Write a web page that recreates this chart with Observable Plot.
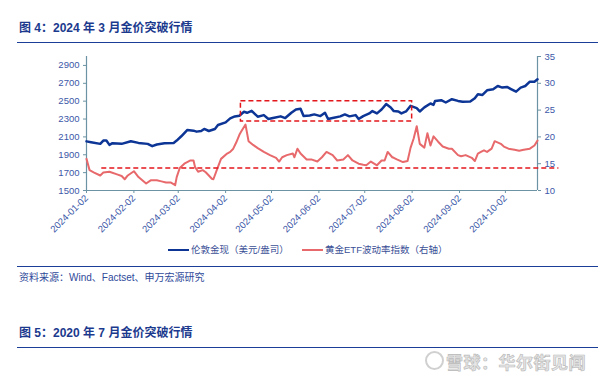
<!DOCTYPE html>
<html>
<head>
<meta charset="utf-8">
<script src="https://cdn.jsdelivr.net/npm/d3@7"></script>
<script src="https://cdn.jsdelivr.net/npm/@observablehq/plot@0.6"></script>
<style>
  html, body { margin: 0; padding: 0; background: #fff; }
  #page { position: relative; width: 605px; height: 379px; background: #fff; overflow: hidden;
          font-family: "Liberation Sans", Arial, "Noto Sans CJK SC", sans-serif; }
  .abs { position: absolute; white-space: nowrap; }
  .title { left: 19px; font-size: 12px; font-weight: bold; color: #1b3a8e; font-family: "Liberation Sans", Arial, "Noto Sans CJK SC", sans-serif; line-height: 14px; }
  .hline { position: absolute; left: 17px; width: 581px; height: 0; border-top: 1.5px solid #1b3f99; }
  .legend { font-size: 9.5px; color: #3a4f96; line-height: 12px; }
  .swatch { position: absolute; height: 0; width: 21px; }
  .src { left: 19px; font-size: 10px; color: #2f4a9a; line-height: 12px; }
  .wm { font-size: 17px; color: #e6e6e6; font-weight: bold; letter-spacing: 0.5px;
        -webkit-text-stroke: 0.6px #b8b8b8; font-family: "Noto Sans CJK SC", sans-serif; }
  #chart { position: absolute; left: 0; top: 0; }
</style>
</head>
<body>
<div id="page">
  <div class="abs title" style="top:21px">图 4：2024 年 3 月金价突破行情</div>
  <div class="hline" style="top:42px"></div>
  <div id="chart"></div>
  <div class="swatch" style="left:168px; top:249px; border-top:2.5px solid #0c3596"></div>
  <div class="abs legend" style="left:191px; top:244px">伦敦金现（美元/盎司）</div>
  <div class="swatch" style="left:302px; top:249px; border-top:2.5px solid #e8696b"></div>
  <div class="abs legend" style="left:325px; top:244px">黄金ETF波动率指数（右轴）</div>
  <div class="hline" style="top:266px"></div>
  <div class="abs src" style="top:272px">资料来源：Wind、Factset、申万宏源研究</div>
  <div class="abs title" style="top:326px">图 5：2020 年 7 月金价突破行情</div>
  <div class="hline" style="top:347px"></div>
  <div class="abs" style="left:425px; top:351px; width:15px; height:15px; border:2px solid #d0d0d0; border-radius:50%;"></div>
  <div class="abs wm" style="left:446px; top:349px">雪球：华尔街见闻</div>
</div>
<script>
// ---- data ----
const xTickDates = ["2024-01-02","2024-02-02","2024-03-02","2024-04-02","2024-05-02","2024-06-02","2024-07-02","2024-08-02","2024-09-02","2024-10-02"];
const leftTicks = [1500,1700,1900,2100,2300,2500,2700,2900];
const rightTicks = [10,15,20,25,30,35];

const goldDates = ["2024-01-02","2024-01-05","2024-01-11","2024-01-13","2024-01-15","2024-01-17","2024-01-19","2024-01-25","2024-01-31","2024-02-05","2024-02-11","2024-02-14","2024-02-17","2024-02-22","2024-02-28","2024-03-01","2024-03-04","2024-03-08","2024-03-12","2024-03-14","2024-03-17","2024-03-19","2024-03-22","2024-03-26","2024-03-28","2024-04-02","2024-04-05","2024-04-08","2024-04-11","2024-04-14","2024-04-16","2024-04-19","2024-04-23","2024-04-27","2024-04-30","2024-05-03","2024-05-08","2024-05-11","2024-05-15","2024-05-18","2024-05-21","2024-05-23","2024-05-27","2024-05-30","2024-06-03","2024-06-06","2024-06-08","2024-06-11","2024-06-16","2024-06-19","2024-06-22","2024-06-26","2024-06-28","2024-07-01","2024-07-05","2024-07-07","2024-07-10","2024-07-13","2024-07-16","2024-07-19","2024-07-21","2024-07-24","2024-07-26","2024-07-29","2024-08-01","2024-08-05","2024-08-07","2024-08-10","2024-08-14","2024-08-16","2024-08-17","2024-08-21","2024-08-24","2024-08-28","2024-09-01","2024-09-04","2024-09-09","2024-09-12","2024-09-14","2024-09-17","2024-09-20","2024-09-24","2024-09-27","2024-09-30","2024-10-03","2024-10-06","2024-10-09","2024-10-12","2024-10-15","2024-10-18","2024-10-21","2024-10-23"];
const goldValues = [2050,2040,2022,2059,2059,2011,2030,2022,2051,2033,2022,1996,2015,2030,2033,2059,2107,2178,2170,2159,2166,2189,2166,2189,2233,2262,2307,2329,2337,2381,2370,2392,2326,2344,2300,2311,2330,2311,2370,2407,2415,2333,2340,2352,2333,2370,2300,2311,2330,2352,2330,2344,2300,2333,2363,2389,2363,2407,2467,2429,2389,2385,2363,2385,2448,2422,2385,2430,2474,2459,2503,2511,2485,2522,2503,2493,2496,2533,2578,2570,2622,2633,2670,2652,2659,2633,2607,2652,2670,2718,2718,2744];

const volDates = ["2024-01-02","2024-01-04","2024-01-07","2024-01-11","2024-01-13","2024-01-17","2024-01-22","2024-01-25","2024-01-27","2024-01-29","2024-02-02","2024-02-05","2024-02-10","2024-02-13","2024-02-17","2024-02-20","2024-02-23","2024-02-26","2024-02-29","2024-03-01","2024-03-03","2024-03-06","2024-03-10","2024-03-12","2024-03-13","2024-03-15","2024-03-18","2024-03-20","2024-03-24","2024-03-25","2024-03-28","2024-03-30","2024-04-03","2024-04-05","2024-04-07","2024-04-09","2024-04-11","2024-04-12","2024-04-15","2024-04-17","2024-04-20","2024-04-23","2024-04-27","2024-05-01","2024-05-05","2024-05-07","2024-05-09","2024-05-12","2024-05-16","2024-05-17","2024-05-19","2024-05-21","2024-05-25","2024-05-28","2024-06-01","2024-06-04","2024-06-07","2024-06-11","2024-06-14","2024-06-18","2024-06-21","2024-06-24","2024-06-28","2024-07-01","2024-07-03","2024-07-06","2024-07-10","2024-07-13","2024-07-15","2024-07-17","2024-07-20","2024-07-21","2024-07-23","2024-07-27","2024-07-30","2024-08-01","2024-08-03","2024-08-05","2024-08-07","2024-08-10","2024-08-12","2024-08-14","2024-08-16","2024-08-19","2024-08-22","2024-08-26","2024-08-28","2024-09-01","2024-09-03","2024-09-06","2024-09-10","2024-09-12","2024-09-14","2024-09-16","2024-09-18","2024-09-20","2024-09-23","2024-09-25","2024-09-29","2024-10-01","2024-10-04","2024-10-08","2024-10-11","2024-10-14","2024-10-18","2024-10-21","2024-10-23"];
const volValues = [15.9,13.8,13.35,12.8,13.35,13.5,13.0,12.7,12.1,12.8,13.6,12.5,11.3,11.9,11.9,11.7,11.5,11.5,11.0,12.5,14.2,15.0,15.6,15.6,14.4,13.5,13.8,13.4,12.2,12.1,14.4,15.9,16.9,17.2,17.8,19.0,20.4,20.9,22.3,19.2,18.5,17.9,17.2,16.6,16.1,15.4,16.2,16.6,16.9,16.2,17.8,16.9,15.8,15.8,15.4,16.2,17.2,16.6,15.6,15.8,16.6,15.6,15.0,14.8,14.7,15.4,14.7,15.6,15.6,17.2,16.2,16.1,15.8,15.3,15.5,18.0,19.7,22.0,18.7,18.0,20.7,18.4,20.1,19.1,18.2,17.8,17.8,16.6,16.4,16.6,16.1,15.5,16.9,17.2,17.5,17.2,17.8,19.2,18.7,18.2,17.8,17.6,17.4,17.6,17.8,18.4,19.3];

// annotations
const hLineValue = 14.2;                 // right-axis value of the dashed horizontal line
const hLineDates = ["2024-01-12", "2024-11-06"];
const boxDates = ["2024-04-12", "2024-08-02"];
const boxGold = [2272, 2500];

// ---- helpers ----
const parse = d3.utcParse("%Y-%m-%d");
const toLeft = v => 1500 + (v - 10) * 60;     // right axis (10..35) -> left axis (1500..3000)
const fromLeft = d => Math.round((d - 1500) / 60 + 10);

const gold = goldDates.map((d, i) => ({date: parse(d), value: goldValues[i]}));
const vol = volDates.map((d, i) => ({date: parse(d), value: volValues[i]}));

const blue = "#0c3596", red = "#e8696b", dash = "#e3161c";
const axisColor = "#6b93a3", labelColor = "#3c58a8";

const chart = Plot.plot({
  width: 605,
  height: 240,
  marginTop: 56,
  marginLeft: 86,
  marginRight: 68,
  marginBottom: 50,
  style: {fontFamily: '"Liberation Sans", Arial, sans-serif', fontSize: "9.5px", color: labelColor, background: "transparent", overflow: "visible"},
  x: {type: "utc", domain: [parse("2024-01-02"), parse("2024-10-23")]},
  y: {domain: [1500, 3000]},
  marks: [
    Plot.axisY({anchor: "left", ticks: leftTicks, tickFormat: d3.format("d"), tickSize: 3, tickPadding: 4, stroke: axisColor, label: null}),
    Plot.axisY({anchor: "right", ticks: rightTicks.map(toLeft), tickFormat: fromLeft, tickSize: 3, tickPadding: 4, stroke: axisColor, label: null}),
    Plot.axisX({ticks: xTickDates.map(parse), tickFormat: d3.utcFormat("%Y-%m-%d"), tickRotate: -45, tickSize: 3, tickPadding: 3, stroke: axisColor, label: null}),
    Plot.ruleY([1500], {stroke: axisColor, strokeWidth: 1.2}),
    Plot.ruleX([parse("2024-01-02"), parse("2024-10-23")], {y1: 1500, y2: 3000, stroke: axisColor, strokeWidth: 1.2}),
    Plot.line(vol, {x: "date", y: d => toLeft(d.value), stroke: red, strokeWidth: 2}),
    Plot.line(gold, {x: "date", y: "value", stroke: blue, strokeWidth: 2.5}),
    Plot.ruleY([toLeft(hLineValue)], {x1: parse(hLineDates[0]), x2: parse(hLineDates[1]), stroke: dash, strokeWidth: 1.5, strokeDasharray: "5,3"}),
    Plot.rect([{x1: parse(boxDates[0]), x2: parse(boxDates[1]), y1: boxGold[0], y2: boxGold[1]}],
      {x1: "x1", x2: "x2", y1: "y1", y2: "y2", fill: "none", stroke: dash, strokeWidth: 1.5, strokeDasharray: "5,3"})
  ]
});
document.getElementById("chart").appendChild(chart);
</script>
</body>
</html>
